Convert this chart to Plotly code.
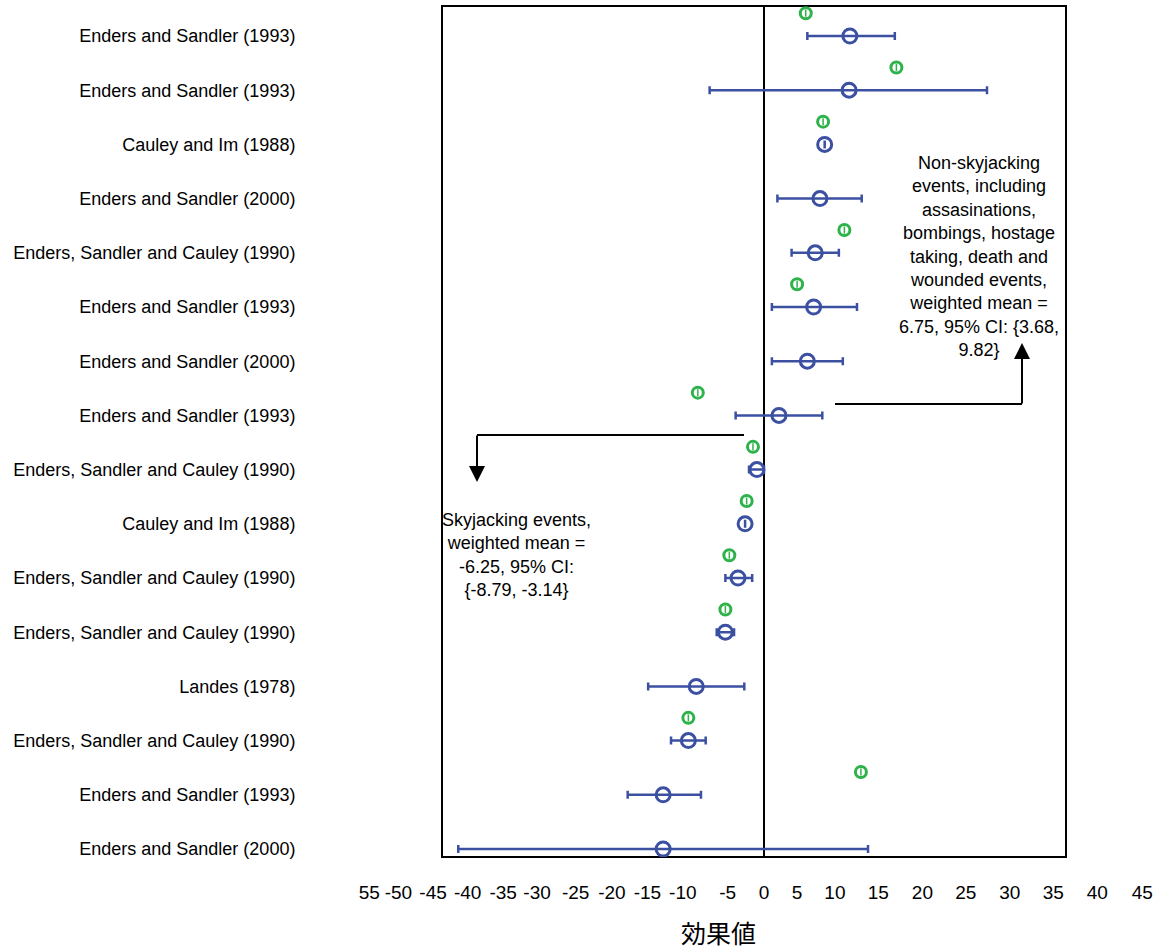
import plotly.graph_objects as go
import numpy as np

# ---------------- data ----------------
studies = [
    "Enders and Sandler (1993)",
    "Enders and Sandler (1993)",
    "Cauley and Im (1988)",
    "Enders and Sandler (2000)",
    "Enders, Sandler and Cauley (1990)",
    "Enders and Sandler (1993)",
    "Enders and Sandler (2000)",
    "Enders and Sandler (1993)",
    "Enders, Sandler and Cauley (1990)",
    "Cauley and Im (1988)",
    "Enders, Sandler and Cauley (1990)",
    "Enders, Sandler and Cauley (1990)",
    "Landes (1978)",
    "Enders, Sandler and Cauley (1990)",
    "Enders and Sandler (1993)",
    "Enders and Sandler (2000)",
]
effect = [10.9, 10.8, 7.7, 7.1, 6.5, 6.3, 5.5, 1.9, -0.9, -2.4, -3.3, -4.9, -8.6, -9.6, -12.8, -12.8]
ci_low = [5.5, -6.9, 7.7, 1.7, 3.5, 1.0, 1.0, -3.6, -1.9, -2.4, -4.9, -6.0, -14.7, -11.8, -17.3, -38.8]
ci_high = [16.6, 28.3, 7.7, 12.4, 9.5, 11.8, 10.0, 7.4, 0.0, -2.4, -1.5, -3.8, -2.5, -7.4, -8.0, 13.2]
green_val = [5.3, 16.8, 7.5, None, 10.2, 4.2, None, -8.4, -1.4, -2.2, -4.4, -4.9, None, -9.6, 12.3, None]

tick_labels = ["55", "-50", "-45", "-40", "-35", "-30", "-25", "-20", "-15", "-10", "-5",
               "0", "5", "10", "15", "20", "25", "30", "35", "40", "45"]
tick_pos = [-50.1, -46.4, -42.0, -37.6, -33.1, -28.8, -23.9, -19.3, -14.8, -10.3, -4.6,
            0.0, 4.2, 9.0, 14.5, 20.1, 25.6, 31.2, 36.7, 42.3, 48.0]

x_title = "効果値"
note_right = ("Non-skyjacking<br>events, including<br>assasinations,<br>bombings, hostage<br>"
              "taking, death and<br>wounded events,<br>weighted mean =<br>6.75, 95% CI: {3.68,<br>9.82}")
note_left = "Skyjacking events,<br>weighted mean =<br>-6.25, 95% CI:<br>{-8.79, -3.14}"

# ---------------- styling ----------------
BLUE = "#3C50A2"
GREEN = "#2EB24A"
W, H = 1164, 949
PX_PER_UNIT = 7.88
ZERO_PX = 764
L, R = 340, 1158
x_range = [(L - ZERO_PX) / PX_PER_UNIT, (R - ZERO_PX) / PX_PER_UNIT]
top_px, bot_px = 6, 857
ROW_PX = 54.2

rows = np.arange(1, len(studies) + 1)
g_off = 0.42
green_x = [np.nan if v is None else v for v in green_val]
green_y = rows - g_off

err_plus = [h - e for h, e in zip(ci_high, effect)]
err_minus = [e - l for e, l in zip(effect, ci_low)]


def xpx(px):
    return (px - ZERO_PX) / PX_PER_UNIT


def ypx(py):
    return 1 + (py - 36) / ROW_PX


fig = go.Figure()

fig.add_trace(go.Scatter(
    x=effect, y=rows, mode="markers",
    marker=dict(symbol="circle-open", size=14, color=BLUE, line=dict(width=3, color=BLUE)),
    error_x=dict(type="data", symmetric=False, array=err_plus, arrayminus=err_minus,
                 color=BLUE, thickness=2.5, width=4),
    showlegend=False, hoverinfo="skip",
))
fig.add_trace(go.Scatter(
    x=green_x, y=green_y, mode="markers",
    marker=dict(symbol="circle-open", size=11, color=GREEN, line=dict(width=3, color=GREEN)),
    showlegend=False, hoverinfo="skip",
))
fig.add_trace(go.Scatter(
    x=green_x, y=green_y, mode="markers",
    marker=dict(symbol="line-ns-open", size=5, color=GREEN, line=dict(width=1.5, color=GREEN)),
    showlegend=False, hoverinfo="skip",
))

shapes = [
    dict(type="rect", xref="x", yref="paper", x0=xpx(442), x1=xpx(1066), y0=0, y1=1,
         line=dict(color="black", width=2), layer="below"),
    dict(type="line", xref="x", yref="paper", x0=0, x1=0, y0=0, y1=1,
         line=dict(color="black", width=2), layer="below"),
    dict(type="line", xref="x", yref="y", x0=xpx(835), x1=xpx(1022), y0=ypx(404), y1=ypx(404),
         line=dict(color="black", width=2)),
    dict(type="line", xref="x", yref="y", x0=xpx(744), x1=xpx(477), y0=ypx(435), y1=ypx(435),
         line=dict(color="black", width=2)),
]

plot_h = bot_px - top_px
plot_w = R - L
annotations = [
    dict(x=xpx(1022), y=ypx(343), ax=xpx(1022), ay=ypx(405), xref="x", yref="y", axref="x", ayref="y",
         text="", showarrow=True, arrowhead=2, arrowsize=1.6, arrowwidth=2, arrowcolor="black"),
    dict(x=xpx(477), y=ypx(482), ax=xpx(477), ay=ypx(434), xref="x", yref="y", axref="x", ayref="y",
         text="", showarrow=True, arrowhead=2, arrowsize=1.6, arrowwidth=2, arrowcolor="black"),
    dict(x=xpx(979), y=ypx(256), xref="x", yref="y", text=note_right,
         showarrow=False, align="center",
         font=dict(family="Liberation Sans, Arial", size=18, color="black")),
    dict(x=xpx(516), y=ypx(555), xref="x", yref="y", text=note_left,
         showarrow=False, align="center",
         font=dict(family="Liberation Sans, Arial", size=18, color="black")),
    dict(x=(718 - L) / plot_w, y=-(932 - bot_px) / plot_h, xref="paper", yref="paper",
         text=x_title, showarrow=False,
         font=dict(family="Noto Sans CJK JP", size=25, color="black"),
         xanchor="center", yanchor="middle"),
]

y_top = 1 - (36 - top_px) / ROW_PX
y_bot = 16 + (bot_px - 849) / ROW_PX

fig.update_layout(
    width=W, height=H,
    margin=dict(l=L, r=W - R, t=top_px, b=H - bot_px),
    paper_bgcolor="white", plot_bgcolor="white",
    font=dict(family="Liberation Sans, Arial", color="black"),
    shapes=shapes, annotations=annotations,
    xaxis=dict(range=x_range, tickmode="array", tickvals=tick_pos, ticktext=tick_labels,
               showgrid=False, zeroline=False, showline=False,
               ticks="outside", ticklen=18, tickcolor="rgba(0,0,0,0)",
               tickfont=dict(size=19, color="black")),
    yaxis=dict(range=[y_bot, y_top], tickmode="array", tickvals=rows.tolist(), ticktext=studies,
               showgrid=False, zeroline=False, showline=False,
               ticks="outside", ticklen=40, tickcolor="rgba(0,0,0,0)",
               tickfont=dict(size=18, color="black")),
)

fig.write_html("out.html", config={"displayModeBar": False},
               post_script="document.body.style.margin='0';")
